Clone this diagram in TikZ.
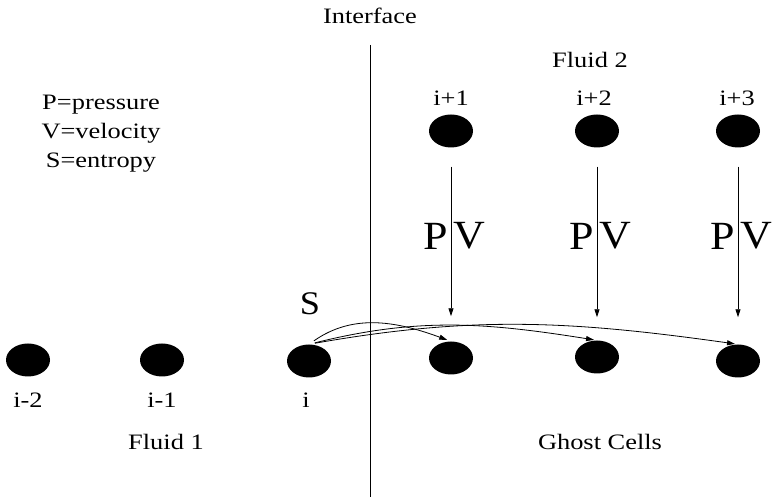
\documentclass[tikz,border=0pt]{standalone}
\usepackage{fontspec}
\setmainfont{Liberation Serif}
\usetikzlibrary{shapes.geometric,arrows.meta}

\begin{document}
\begin{tikzpicture}[x=1pt, y=1pt,
    cell/.style={ellipse, fill=black, minimum width=44pt, minimum height=33pt, inner sep=0pt},
    txt/.style={font=\fontsize{22}{29}\selectfont, xscale=1.2, inner sep=1pt},
    big/.style={font=\fontsize{40}{40}\selectfont, xscale=1.1, inner sep=0pt},
    flow/.style={-{Triangle[length=8pt, width=5pt]}, line width=0.8pt}]
    \useasboundingbox (0,0) rectangle (776,497);
    \node[txt] (iface) at (370,481) {Interface};
    \coordinate (ifaceTop) at (370,452);
    \coordinate (ifaceBot) at (370,0);
    \draw[line width=1pt] (ifaceTop) -- (ifaceBot);
    \node[txt] (fluidB) at (590,437) {Fluid 2};
    \node[txt, align=center] (legend) at (101,363) {P=pressure\\V=velocity\\S=entropy};

    \node[cell] (f1) at (451,366) {};
    \node[cell] (f2) at (597,366) {};
    \node[cell] (f3) at (738,366) {};
    \node[txt] (lf1) at (451,399) {i+1};
    \node[txt] (lf2) at (594,399) {i+2};
    \node[txt] (lf3) at (737,399) {i+3};

    \node[cell] (a) at (28,137) {};
    \node[cell] (b) at (162,137) {};
    \node[cell] (c) at (309,136) {};
    \node[cell] (g1) at (451,139) {};
    \node[cell] (g2) at (597,140) {};
    \node[cell] (g3) at (738,136) {};
    \node[txt] (la) at (28,97) {i-2};
    \node[txt] (lb) at (162,97) {i-1};
    \node[txt] (lc) at (306,97) {i};
    \node[txt] (fluidA) at (166,55) {Fluid 1};
    \node[txt] (ghost) at (600,55) {Ghost Cells};

    \draw[flow, shorten <=19pt, shorten >=25pt] (f1) -- (g1);
    \draw[flow, shorten <=19pt, shorten >=23pt] (f2) -- (g2);
    \draw[flow, shorten <=19pt, shorten >=27pt] (f3) -- (g3);
    \foreach \x/\n in {451/1,597/2,738/3} {
        \node[big, anchor=east] (p\n) at (\x-3,261) {P};
        \node[big, anchor=west] (v\n) at (\x+2,261) {V};
    }

    \node[big, font=\fontsize{33}{33}\selectfont] (s) at (310,193) {S};
    \draw[flow, shorten <=6pt, shorten >=4pt] (c.north) to[out=35, in=160] (g1.north);
    \draw[flow, shorten <=6pt, shorten >=3pt] (c.north) to[out=14, in=171] (g2.north);
    \draw[flow, shorten <=6pt, shorten >=3pt] (c.north) to[out=10, in=172] (g3.north);
\end{tikzpicture}
\end{document}
